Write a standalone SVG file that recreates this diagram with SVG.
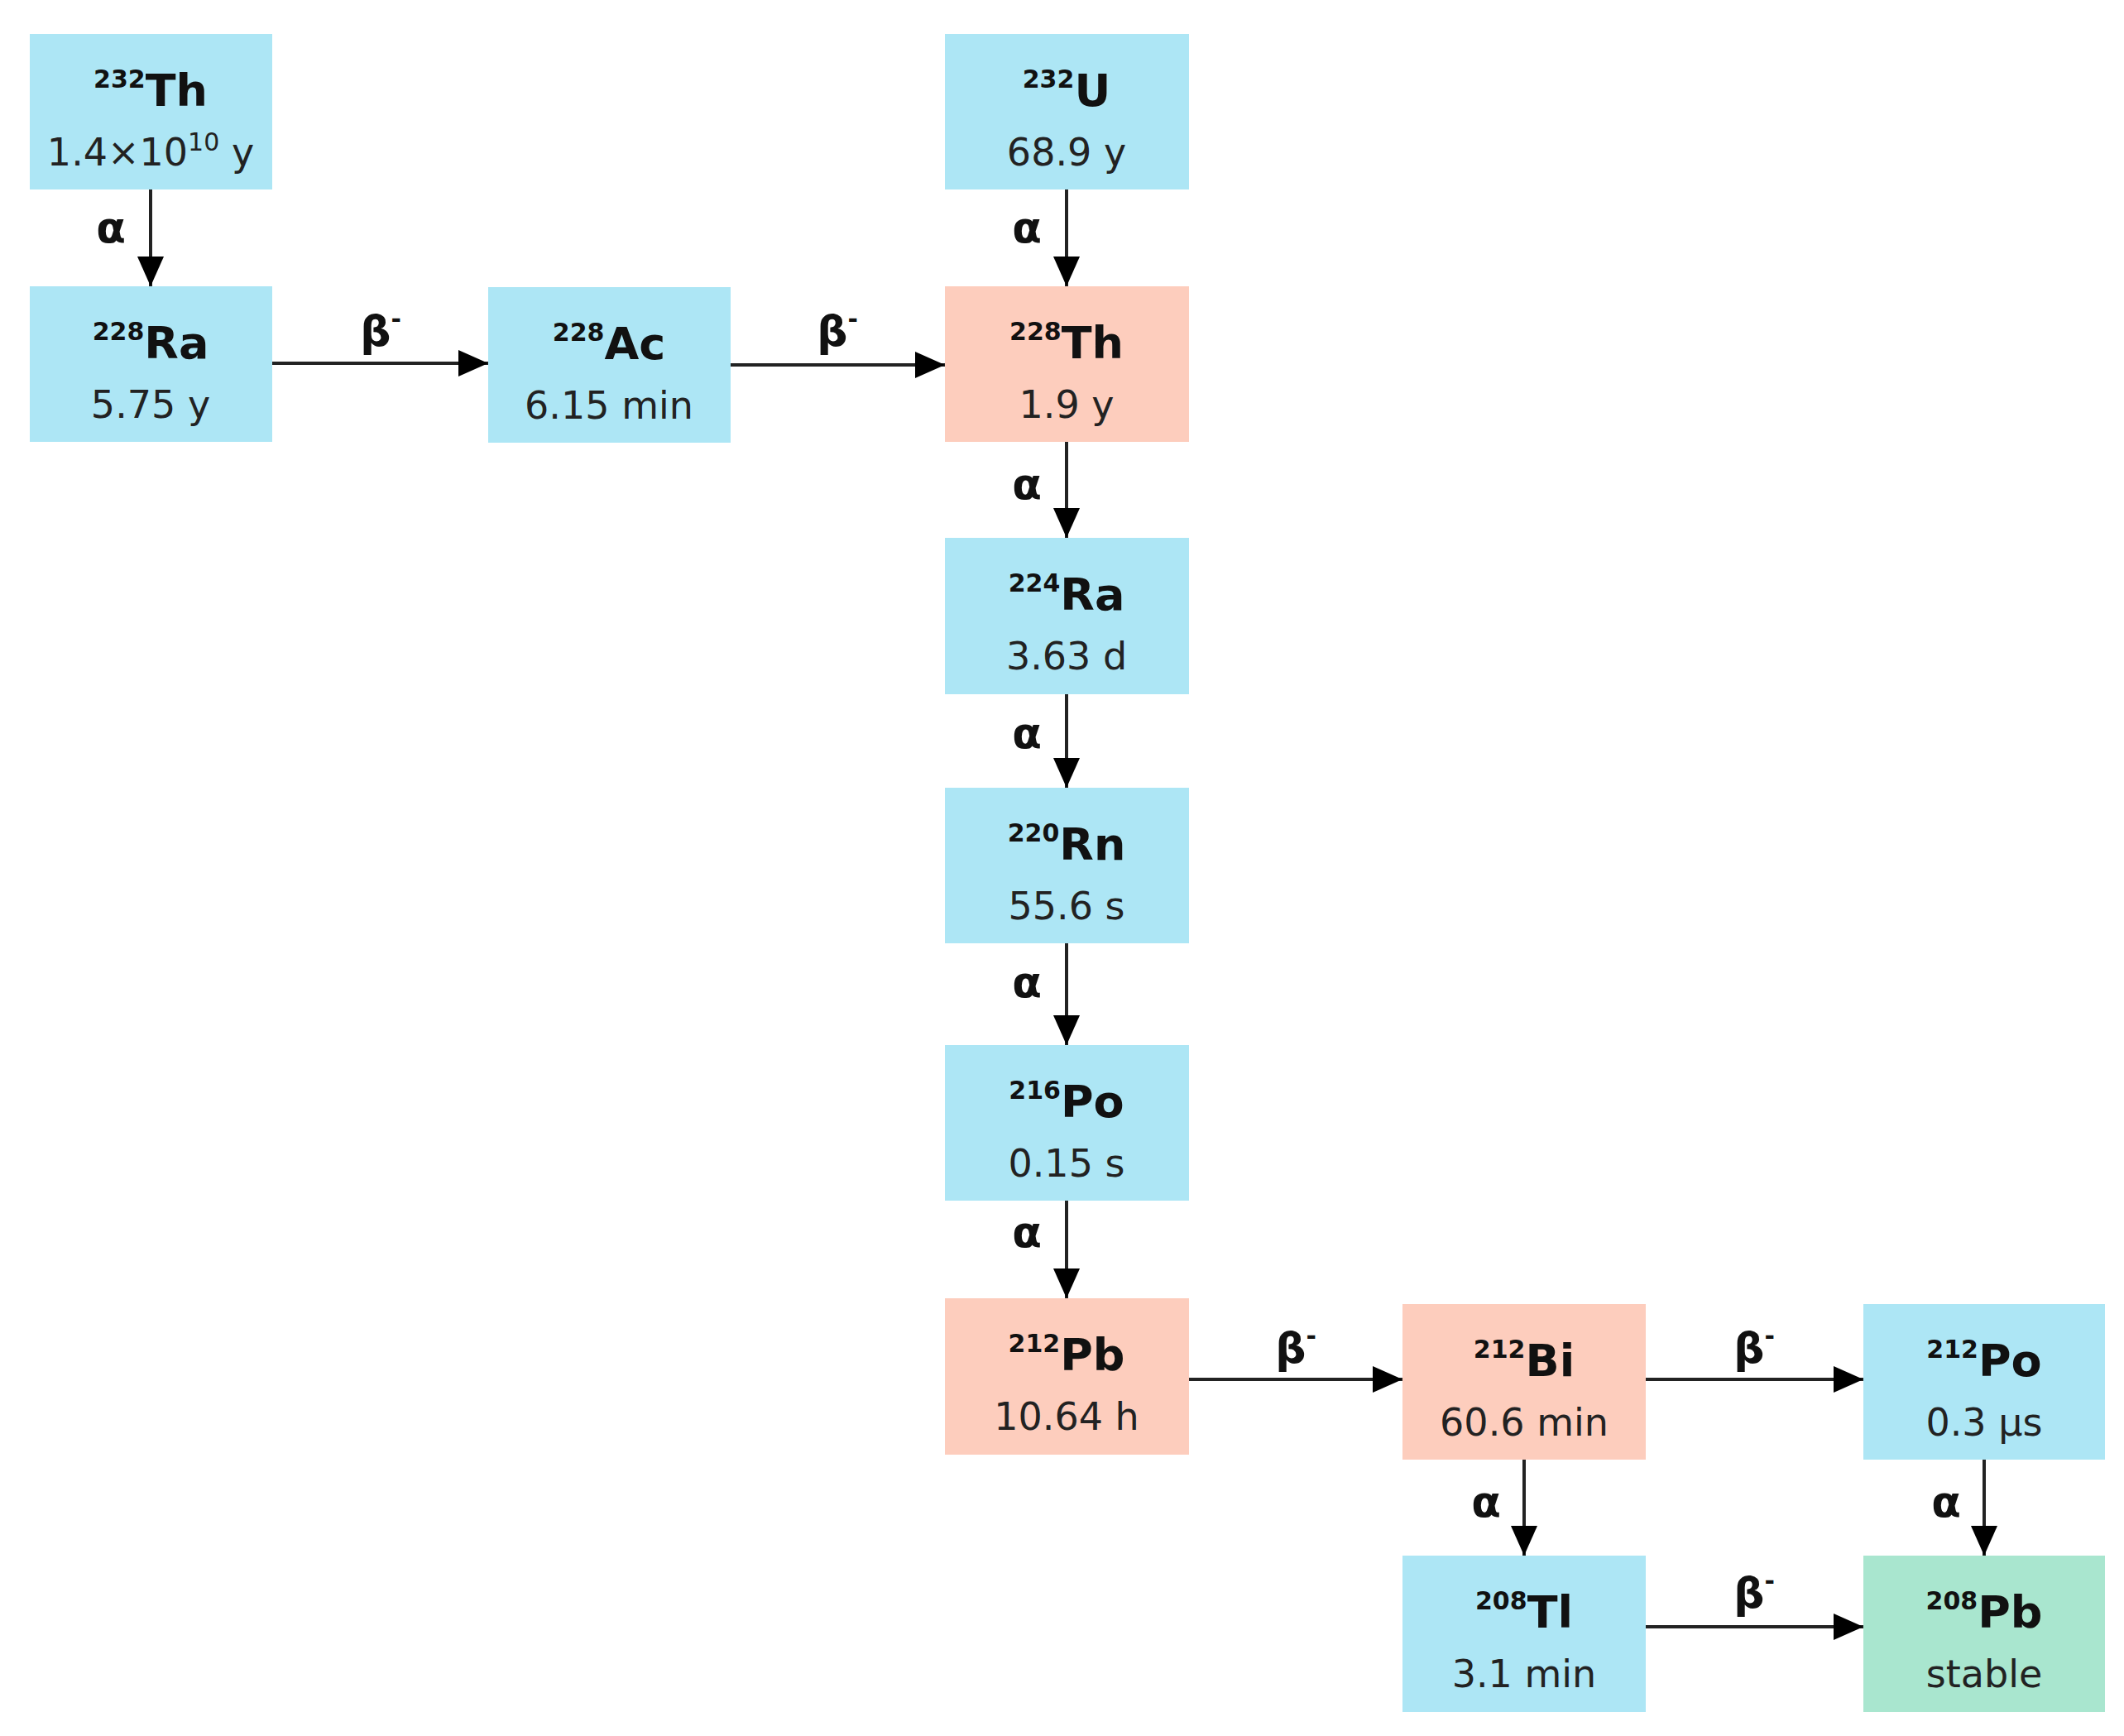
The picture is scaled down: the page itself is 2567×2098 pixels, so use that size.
<svg xmlns="http://www.w3.org/2000/svg" width="2567" height="2098" viewBox="0 0 2567 2098">
<style>
.b{fill:#ade6f5}.s{fill:#fdcdbd}.g{fill:#a9e6cf}
.n{font-family:"DejaVu Sans",sans-serif;font-weight:bold;font-size:54px;fill:#111;text-anchor:middle}
.h{font-family:"DejaVu Sans",sans-serif;font-size:46px;fill:#222;text-anchor:middle}
.sup{font-size:30px}
.l{font-family:"DejaVu Sans",sans-serif;font-weight:bold;font-size:52px;fill:#111;text-anchor:middle}
.c{stroke:#222;stroke-width:4;fill:none;marker-end:url(#a)}
</style>
<defs><marker id="a" markerUnits="userSpaceOnUse" markerWidth="36" markerHeight="36" viewBox="0 0 36 36" refX="36" refY="18" orient="auto"><path d="M0,2 L36,18 L0,34 Z" fill="#000"/></marker></defs>
<g id="connectors">
<path class="c" d="M182,229V346"/><text class="l" x="134" y="293">α</text>
<path class="c" d="M1289,229V346"/><text class="l" x="1241" y="293">α</text>
<path class="c" d="M329,439H590"/><text class="l" x="460" y="418">β<tspan class="sup" dy="-22">-</tspan></text>
<path class="c" d="M883,441H1142"/><text class="l" x="1012" y="418">β<tspan class="sup" dy="-22">-</tspan></text>
<path class="c" d="M1289,534V650"/><text class="l" x="1241" y="603">α</text>
<path class="c" d="M1289,839V952"/><text class="l" x="1241" y="904">α</text>
<path class="c" d="M1289,1140V1263"/><text class="l" x="1241" y="1205">α</text>
<path class="c" d="M1289,1451V1569"/><text class="l" x="1241" y="1507">α</text>
<path class="c" d="M1437,1667H1695"/><text class="l" x="1566" y="1647">β<tspan class="sup" dy="-22">-</tspan></text>
<path class="c" d="M1989,1667H2252"/><text class="l" x="2120" y="1647">β<tspan class="sup" dy="-22">-</tspan></text>
<path class="c" d="M1842,1764V1880"/><text class="l" x="1796" y="1833">α</text>
<path class="c" d="M2398,1764V1880"/><text class="l" x="2352" y="1833">α</text>
<path class="c" d="M1989,1966H2252"/><text class="l" x="2120" y="1943">β<tspan class="sup" dy="-22">-</tspan></text>
</g>
<g id="th232"><rect class="b" x="36" y="41" width="293" height="188"/><text class="n" x="182" y="128"><tspan class="sup" dy="-22">232</tspan><tspan dy="22">Th</tspan></text><text class="h" x="182" y="200">1.4×10<tspan class="sup" dy="-18">10</tspan><tspan dy="18"> y</tspan></text></g>
<g id="ra228"><rect class="b" x="36" y="346" width="293" height="188"/><text class="n" x="182" y="433"><tspan class="sup" dy="-22">228</tspan><tspan dy="22">Ra</tspan></text><text class="h" x="182" y="505">5.75 y</text></g>
<g id="ac228"><rect class="b" x="590" y="347" width="293" height="188"/><text class="n" x="736" y="434"><tspan class="sup" dy="-22">228</tspan><tspan dy="22">Ac</tspan></text><text class="h" x="736" y="506">6.15 min</text></g>
<g id="u232"><rect class="b" x="1142" y="41" width="295" height="188"/><text class="n" x="1289" y="128"><tspan class="sup" dy="-22">232</tspan><tspan dy="22">U</tspan></text><text class="h" x="1289" y="200">68.9 y</text></g>
<g id="th228"><rect class="s" x="1142" y="346" width="295" height="188"/><text class="n" x="1289" y="433"><tspan class="sup" dy="-22">228</tspan><tspan dy="22">Th</tspan></text><text class="h" x="1289" y="505">1.9 y</text></g>
<g id="ra224"><rect class="b" x="1142" y="650" width="295" height="189"/><text class="n" x="1289" y="737"><tspan class="sup" dy="-22">224</tspan><tspan dy="22">Ra</tspan></text><text class="h" x="1289" y="809">3.63 d</text></g>
<g id="rn220"><rect class="b" x="1142" y="952" width="295" height="188"/><text class="n" x="1289" y="1039"><tspan class="sup" dy="-22">220</tspan><tspan dy="22">Rn</tspan></text><text class="h" x="1289" y="1111">55.6 s</text></g>
<g id="po216"><rect class="b" x="1142" y="1263" width="295" height="188"/><text class="n" x="1289" y="1350"><tspan class="sup" dy="-22">216</tspan><tspan dy="22">Po</tspan></text><text class="h" x="1289" y="1422">0.15 s</text></g>
<g id="pb212"><rect class="s" x="1142" y="1569" width="295" height="189"/><text class="n" x="1289" y="1656"><tspan class="sup" dy="-22">212</tspan><tspan dy="22">Pb</tspan></text><text class="h" x="1289" y="1728">10.64 h</text></g>
<g id="bi212"><rect class="s" x="1695" y="1576" width="294" height="188"/><text class="n" x="1842" y="1663"><tspan class="sup" dy="-22">212</tspan><tspan dy="22">Bi</tspan></text><text class="h" x="1842" y="1735">60.6 min</text></g>
<g id="po212"><rect class="b" x="2252" y="1576" width="292" height="188"/><text class="n" x="2398" y="1663"><tspan class="sup" dy="-22">212</tspan><tspan dy="22">Po</tspan></text><text class="h" x="2398" y="1735">0.3 µs</text></g>
<g id="tl208"><rect class="b" x="1695" y="1880" width="294" height="189"/><text class="n" x="1842" y="1967"><tspan class="sup" dy="-22">208</tspan><tspan dy="22">Tl</tspan></text><text class="h" x="1842" y="2039">3.1 min</text></g>
<g id="pb208"><rect class="g" x="2252" y="1880" width="292" height="189"/><text class="n" x="2398" y="1967"><tspan class="sup" dy="-22">208</tspan><tspan dy="22">Pb</tspan></text><text class="h" x="2398" y="2039">stable</text></g>
</svg>
